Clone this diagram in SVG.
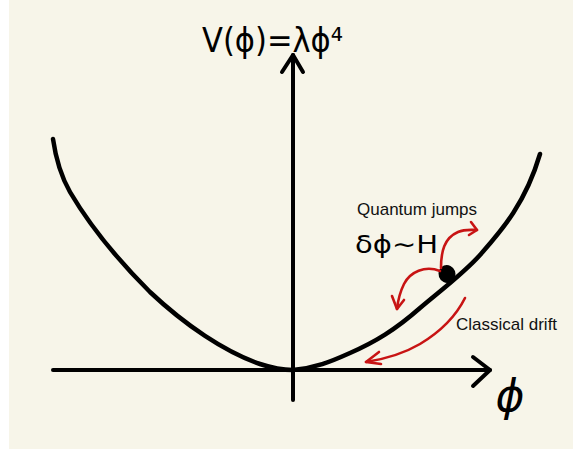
<svg xmlns="http://www.w3.org/2000/svg" width="573" height="453" viewBox="0 0 573 453">
  <defs>
    <style>
      .ink { fill: none; stroke: #000; stroke-linecap: round; stroke-linejoin: round; }
      .red { fill: none; stroke: #c81414; stroke-width: 2.6; stroke-linecap: round; stroke-linejoin: round; }
      .hand { font-family: "DejaVu Sans", "Noto Sans", sans-serif; fill: #000; }
      .lbl { font-family: "Liberation Sans", Arial, sans-serif; fill: #111; }
    </style>
  </defs>
  <rect x="0" y="0" width="573" height="453" fill="#ffffff"/>
  <rect x="9" y="0" width="564" height="449" fill="#f7f5e9"/>

  <g id="axes">
    <path class="ink" stroke-width="4" d="M53,370 L490,370"/>
    <path class="ink" stroke-width="4" d="M473,357 L490,370 L473,386"/>
    <path class="ink" stroke-width="4" d="M293,400 L293,55"/>
    <path class="ink" stroke-width="4" d="M282,72 L293,55 L303,72"/>
  </g>

  <g id="potential">
    <path class="ink" stroke-width="4.5" d="M53,139 C56,160 62,178 70,192 C90,226 120,262 150,292 C185,325 225,352 260,364 C275,369 285,370 293,370 C315,368 330,362 350,353 C375,342 395,330 420,308 C445,287 465,272 480,255 C500,232 525,205 540,154"/>
  </g>

  <g id="ball">
    <ellipse cx="447" cy="274" rx="8.5" ry="9" fill="#000" transform="rotate(-20 447 274)"/>
  </g>

  <g id="connectors">
    <path class="red" d="M441,268 C441,252 444,238 458,232 C465,229 471,230 477,230"/>
    <path class="red" d="M471,222 L477,230 L469,235"/>
    <path class="red" d="M440,271 C425,265 410,272 404,284 C400,292 398,300 397,309"/>
    <path class="red" d="M392,296 L397,309 L404,300"/>
    <path class="red" d="M465,298 C455,318 440,332 420,344 C403,354 385,359 366,362"/>
    <path class="red" d="M379,352 L366,362 L381,364"/>
  </g>

  <g id="labels">
    <text class="hand" x="202" y="52" font-size="34" textLength="141" lengthAdjust="spacingAndGlyphs">V(ϕ)=λϕ⁴</text>
    <text class="hand" x="355" y="253" font-size="25" textLength="83" lengthAdjust="spacingAndGlyphs">δϕ∼H</text>
    <text class="hand" x="510" y="411" font-size="44" font-style="italic" text-anchor="middle">ϕ</text>
    <text class="lbl" x="357" y="215" font-size="17">Quantum jumps</text>
    <text class="lbl" x="456" y="330" font-size="17">Classical drift</text>
  </g>
</svg>
